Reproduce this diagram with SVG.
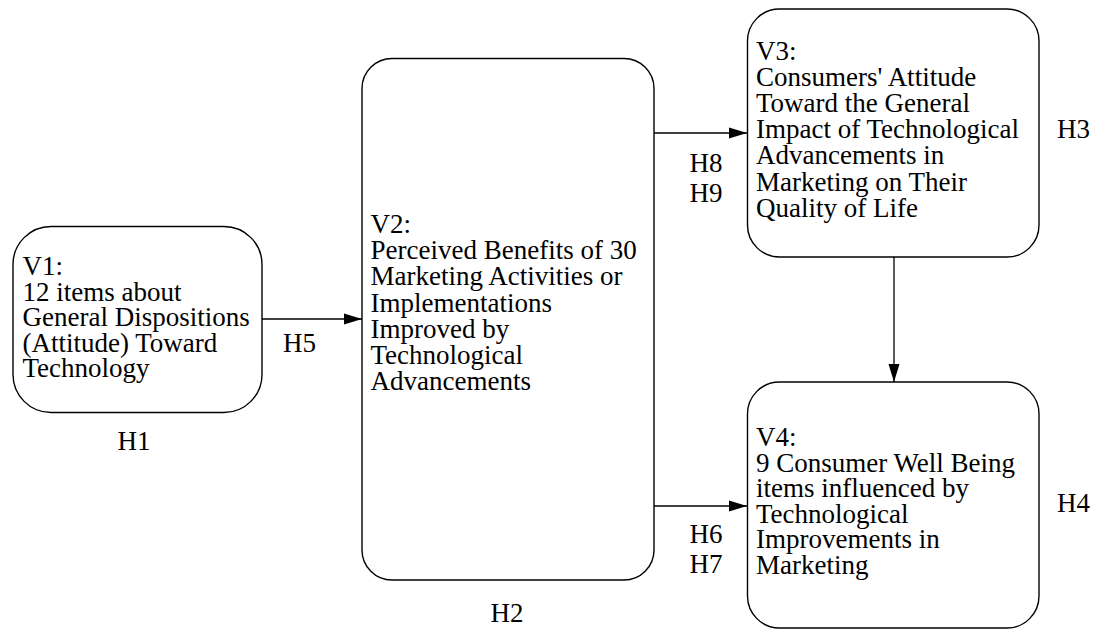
<svg xmlns="http://www.w3.org/2000/svg" width="1095" height="630" viewBox="0 0 1095 630">
<defs>
<style>
.box{fill:#fff;stroke:#000;stroke-width:1.4}
.t{font-family:"Liberation Serif","Times New Roman",serif;font-size:27px;fill:#000}
.c{stroke:#000;stroke-width:1.3;fill:none}
</style>
<marker id="ah" markerWidth="18" markerHeight="12" refX="18" refY="6" orient="auto" markerUnits="userSpaceOnUse">
<path d="M0,0.5 L18,6 L0,11.5 Z" fill="#000"/>
</marker>
</defs>
<rect width="1095" height="630" fill="#fff"/>
<g id="connectors">
<line class="c" x1="262" y1="319" x2="362" y2="319" marker-end="url(#ah)"/>
<line class="c" x1="654" y1="133" x2="747" y2="133" marker-end="url(#ah)"/>
<line class="c" x1="654" y1="506" x2="747" y2="506" marker-end="url(#ah)"/>
<line class="c" x1="894" y1="257" x2="894" y2="382" marker-end="url(#ah)"/>
</g>
<g id="v1">
<rect class="box" x="13" y="226.5" width="249" height="186" rx="38" ry="38"/>
<text class="t" x="22.5" y="275"><tspan x="22.5">V1:</tspan><tspan x="22.5" dy="25.5">12 items about</tspan><tspan x="22.5" dy="25.5">General Dispositions</tspan><tspan x="22.5" dy="25.5">(Attitude) Toward</tspan><tspan x="22.5" dy="25.5">Technology</tspan></text>
</g>
<g id="v2">
<rect class="box" x="362" y="58.5" width="292" height="521.5" rx="30" ry="30"/>
<text class="t" x="370.5" y="233"><tspan x="370.5">V2:</tspan><tspan x="370.5" dy="26.2">Perceived Benefits of 30</tspan><tspan x="370.5" dy="26.2">Marketing Activities or</tspan><tspan x="370.5" dy="26.2">Implementations</tspan><tspan x="370.5" dy="26.2">Improved by</tspan><tspan x="370.5" dy="26.2">Technological</tspan><tspan x="370.5" dy="26.2">Advancements</tspan></text>
</g>
<g id="v3">
<rect class="box" x="747.5" y="9" width="291.5" height="248" rx="32" ry="32"/>
<text class="t" x="756" y="60"><tspan x="756">V3:</tspan><tspan x="756" dy="26.1">Consumers' Attitude</tspan><tspan x="756" dy="26.1">Toward the General</tspan><tspan x="756" dy="26.1">Impact of Technological</tspan><tspan x="756" dy="26.1">Advancements in</tspan><tspan x="756" dy="26.1">Marketing on Their</tspan><tspan x="756" dy="26.1">Quality of Life</tspan></text>
</g>
<g id="v4">
<rect class="box" x="747.5" y="382" width="291.5" height="246" rx="32" ry="32"/>
<text class="t" x="756" y="446"><tspan x="756">V4:</tspan><tspan x="756" dy="25.6">9 Consumer Well Being</tspan><tspan x="756" dy="25.6">items influenced by</tspan><tspan x="756" dy="25.6">Technological</tspan><tspan x="756" dy="25.6">Improvements in</tspan><tspan x="756" dy="25.6">Marketing</tspan></text>
</g>
<g id="labels">
<text class="t" x="134" y="450" text-anchor="middle">H1</text>
<text class="t" x="507" y="621.5" text-anchor="middle">H2</text>
<text class="t" x="1057" y="138">H3</text>
<text class="t" x="1057" y="512">H4</text>
<text class="t" x="283" y="351.5">H5</text>
<text class="t" x="689.5" y="543">H6</text>
<text class="t" x="689.5" y="572.5">H7</text>
<text class="t" x="689.5" y="171.5">H8</text>
<text class="t" x="689.5" y="201.5">H9</text>
</g>
</svg>
